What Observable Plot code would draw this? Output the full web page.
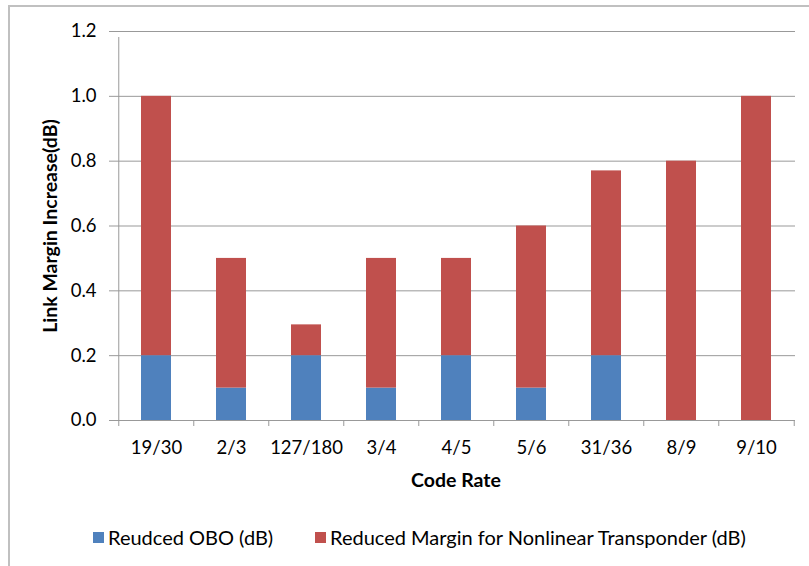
<!DOCTYPE html>
<html><head><meta charset="utf-8">
<script src="https://cdn.jsdelivr.net/npm/d3@7"></script>
<script src="https://cdn.jsdelivr.net/npm/@observablehq/plot@0.6"></script>
<style>
body{margin:0;background:#fff;font-family:Lato,sans-serif;}
#wrap{position:relative;width:809px;height:566px;overflow:hidden;background:#fff;}
#border{position:absolute;left:8px;top:5px;width:900px;height:700px;border-left:2px solid #c0c0c0;border-top:2px solid #c0c0c0;}
#chart{position:absolute;left:0;top:0;}
.leg{position:absolute;top:525px;display:flex;align-items:center;font-size:20px;color:#000;white-space:nowrap;}
.sw{width:11px;height:11px;margin-right:4px;display:inline-block;}
#chart svg g[aria-label="y-axis"] line, #chart svg g[aria-label="y-axis tick"] path{stroke:#999;}
</style>
</head><body>
<div id="wrap"><div id="border"></div><div id="chart"></div><div id="legend"></div></div>
<script>
const categories = ["19/30","2/3","127/180","3/4","4/5","5/6","31/36","8/9","9/10"];
const oboValues = [0.2,0.1,0.2,0.1,0.2,0.1,0.2,0,0];
const nonlinearValues = [0.8,0.4,0.095,0.4,0.3,0.5,0.57,0.8,1.0];
const seriesNames = ["Reudced OBO (dB)","Reduced Margin for Nonlinear Transponder (dB)"];
const seriesColors = ["#4f81bd","#c0504d"];
const yTicks = [0,0.2,0.4,0.6,0.8,1.0,1.2];
const xTitle = "Code Rate";
const yTitle = "Link Margin Increase(dB)";

const rows = [];
categories.forEach((c,i)=>{
  rows.push({code:c, series:seriesNames[0], value:oboValues[i]});
  rows.push({code:c, series:seriesNames[1], value:nonlinearValues[i]});
});

const W=809, H=500, ML=116, MR=14, MT=31, MB=80;
const step=(W-ML-MR)/categories.length;
const gray="#999";
const plot = Plot.plot({
  width:W, height:H, marginLeft:ML, marginRight:MR, marginTop:MT, marginBottom:MB,
  style:{fontFamily:"Lato, sans-serif", fontSize:"18.5px", color:"#000", background:"transparent"},
  x:{domain:categories, paddingInner:0.6, paddingOuter:0.3, tickSize:0, tickPadding:20, label:null},
  y:{domain:[0,1.2], ticks:yTicks, tickFormat:d3.format(".1f"), tickSize:7, tickPadding:13, label:null},
  color:{domain:seriesNames, range:seriesColors},
  marks:[
    Plot.ruleY(yTicks, {stroke:gray}),
    Plot.barY(rows, {x:"code", y:"value", fill:"series"}),
    Plot.ruleX(categories, {x:d=>d, y1:0, y2:0, insetBottom:-6, dx:-step/2, stroke:gray}),
    Plot.ruleX(categories.slice(-1), {x:d=>d, y1:0, y2:0, insetBottom:-6, dx:step/2, stroke:gray}),
    Plot.ruleX(categories.slice(0,1), {x:d=>d, y1:0, y2:1.2, insetBottom:-6, dx:-step/2, stroke:gray}),
    Plot.text([xTitle], {frameAnchor:"bottom", lineAnchor:"middle", textAnchor:"middle", dy:60, fontWeight:"bold", fontSize:19.5}),
    Plot.text([yTitle], {frameAnchor:"left", lineAnchor:"middle", textAnchor:"middle", rotate:-90, dx:-66, fontWeight:"bold", fontSize:19.5})
  ]
});
document.getElementById("chart").appendChild(plot);

const legend = document.getElementById("legend");
const legLeft = [93, 315];
seriesNames.forEach((n,i)=>{
  const d = document.createElement("div");
  d.className="leg"; d.style.left=legLeft[i]+"px";
  const s = document.createElement("span"); s.className="sw"; s.style.background=seriesColors[i];
  const t = document.createElement("span"); t.textContent=n;
  d.appendChild(s); d.appendChild(t); legend.appendChild(d);
});
</script>
</body></html>
